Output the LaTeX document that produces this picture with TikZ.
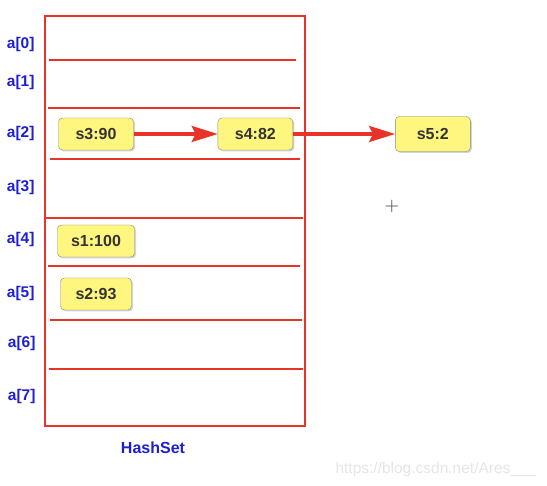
\documentclass[tikz,border=0pt]{standalone}
\usepackage{fontspec}
\setmainfont{Liberation Sans}
\usepackage{tikz}
\usetikzlibrary{positioning, arrows.meta, shadows}
\definecolor{setred}{RGB}{232,52,40}
\definecolor{entryfill}{RGB}{255,246,128}
\definecolor{entrydraw}{RGB}{140,140,110}
\definecolor{labelblue}{RGB}{30,30,210}

\begin{document}
\begin{tikzpicture}[x=1pt, y=-1pt,
  entry/.style={draw=entrydraw, fill=entryfill, rounded corners=4pt, minimum width=75pt, minimum height=32pt,
    font=\fontsize{16}{19}\selectfont\bfseries, text=black!80, drop shadow={shadow xshift=1.5pt, shadow yshift=-1.5pt, opacity=0.35}},
  idx/.style={anchor=east, font=\fontsize{15.5}{18}\selectfont\bfseries, text=labelblue},
  bucket/.style={draw=setred, line width=2.2pt},
  link/.style={draw=setred, line width=3.2pt, -{Stealth[length=26pt, width=16pt, inset=4pt]}}]
  \useasboundingbox (0,0) rectangle (547,486);

  % the table
  \draw[bucket] (45,16) rectangle (305,426);
  \draw[bucket] (49,60) -- (296,60);
  \draw[bucket] (48,108) -- (300,108);
  \draw[bucket] (50,159) -- (300,159);
  \draw[bucket] (45,218) -- (303,218);
  \draw[bucket] (48,266) -- (300,266);
  \draw[bucket] (50,320) -- (302,320);
  \draw[bucket] (49,369) -- (303,369);

  \node[idx] (a0) at (38,44)  {a[0]};
  \node[idx] (a1) at (38,82)  {a[1]};
  \node[idx] (a2) at (38,133) {a[2]};
  \node[idx] (a3) at (38,187) {a[3]};
  \node[idx] (a4) at (38,239) {a[4]};
  \node[idx] (a5) at (38,293) {a[5]};
  \node[idx] (a6) at (39,343) {a[6]};
  \node[idx] (a7) at (39,396) {a[7]};

  \node[font=\fontsize{16}{19}\selectfont\bfseries, text=labelblue] (set) at (153,448) {HashSet};

  % entries
  \node[entry] (s3) at (96,134) {s3:90};
  \node[entry, right=84pt of s3] (s4) {s4:82};
  \node[entry, right=102pt of s4, minimum height=35pt] (s5) {s5:2};
  \node[entry, minimum width=77pt] (s1) at (96,241) {s1:100};
  \node[entry, minimum width=71pt] (s2) at (96,294) {s2:93};

  \draw[link] (s3) -- (s4);
  \draw[link] (s4) -- (s5);

  \node[font=\fontsize{20}{22}\selectfont\sffamily, text=black!80] (cursor) at (392,207) {+};
  \node[font=\fontsize{15.5}{18}\selectfont, text=black!10, anchor=west] (mark) at (332,469) {https://blog.csdn.net/Ares\_\_\_};
\end{tikzpicture}
\end{document}
